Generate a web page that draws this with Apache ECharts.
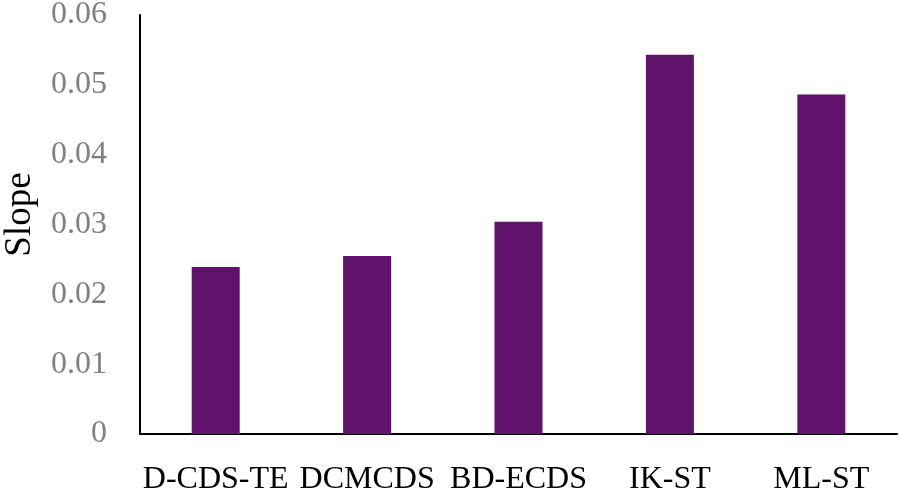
<!DOCTYPE html>
<html>
<head>
<meta charset="utf-8">
<script src="https://cdn.jsdelivr.net/npm/echarts@6/dist/echarts.min.js"></script>
<style>
  html, body { margin: 0; padding: 0; background: #fff; }
  #chart { width: 900px; height: 494px; }
</style>
</head>
<body>
<div id="chart"></div>
<script>
// categories and slope values
var methods = ['D-CDS-TE', 'DCMCDS', 'BD-ECDS', 'IK-ST', 'ML-ST'];
var slopes = [0.0239, 0.0255, 0.0304, 0.0543, 0.0486];
var yTicks = [0, 0.01, 0.02, 0.03, 0.04, 0.05, 0.06];

var font = 'Liberation Serif';

var chart = echarts.init(document.getElementById('chart'));
chart.setOption({
  animation: false,
  grid: { left: 140, right: 3, top: 15, bottom: 60, outerBoundsMode: 'none', containLabel: false },
  xAxis: {
    type: 'category',
    data: methods,
    axisLine: { lineStyle: { color: '#000', width: 2 } },
    axisTick: { show: false },
    axisLabel: {
      color: '#000', fontFamily: font, fontSize: 32, margin: 30, interval: 0
    }
  },
  yAxis: {
    type: 'value',
    min: yTicks[0],
    max: yTicks[yTicks.length - 1],
    interval: 0.01,
    name: 'Slope',
    nameLocation: 'middle',
    nameGap: 101,
    nameTextStyle: { color: '#000', fontFamily: font, fontSize: 37, padding: [0, 0, 0, 20] },
    axisLine: { show: true, lineStyle: { color: '#000', width: 2 } },
    axisTick: { show: false },
    splitLine: { show: false },
    axisLabel: {
      color: '#808080', fontFamily: font, fontSize: 32, margin: 33,
      formatter: function (v) { return v === 0 ? '0' : v.toFixed(2); }
    }
  },
  series: [{
    type: 'bar',
    data: slopes,
    barWidth: 48,
    itemStyle: { color: '#5F136A' }
  }]
});
</script>
</body>
</html>
